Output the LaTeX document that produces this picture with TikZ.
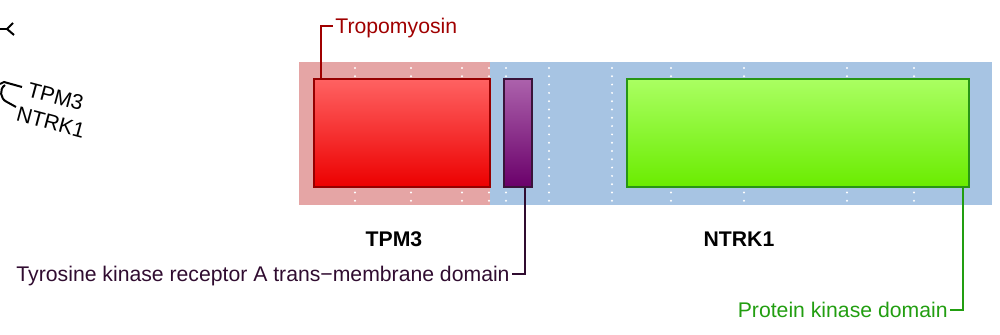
\documentclass[tikz,border=0pt]{standalone}
\usepackage{fontspec}
\setmainfont{Liberation Sans}

\definecolor{tpmBg}{RGB}{229,165,165}
\definecolor{ntrkBg}{RGB}{167,196,227}
\definecolor{redTop}{RGB}{255,98,98}
\definecolor{redBot}{RGB}{236,0,0}
\definecolor{redEdge}{RGB}{150,0,0}
\definecolor{tmTop}{RGB}{172,98,172}
\definecolor{tmBot}{RGB}{106,0,106}
\definecolor{tmEdge}{RGB}{58,20,58}
\definecolor{pkTop}{RGB}{170,255,98}
\definecolor{pkBot}{RGB}{106,236,0}
\definecolor{pkEdge}{RGB}{40,150,20}
\definecolor{tropoText}{RGB}{160,0,0}
\definecolor{tmText}{RGB}{48,12,48}
\definecolor{pkText}{RGB}{34,158,17}

\begin{document}
\begin{tikzpicture}[x=0.5pt,y=-0.5pt]
\tikzset{domainbox/.style = {draw,line width=0.9pt,inner sep=0,minimum height=54pt}}
\tikzset{callout/.style = {line width=1pt}}
\tikzset{note/.style = {font=\fontsize{10.6}{12}\selectfont,inner sep=1pt,text height=7.5pt,text depth=0pt}}
\tikzset{gene/.style = {font=\fontsize{10.6}{12}\selectfont\bfseries,inner sep=0}}
\useasboundingbox (0,0) rectangle (1000,335);
% partner backgrounds
\fill[tpmBg] (299,62) rectangle (490,205);
\fill[ntrkBg] (490,62) rectangle (992,205);
\foreach \x in {355,411,462,489,506,549,612,671,744,847,914}
  \foreach \k in {0,...,16}
    \fill[white] ({\x},{68+8.3*\k}) circle (0.55pt);
% domains
\node[domainbox,minimum width=88pt,draw=redEdge,top color=redTop,bottom color=redBot] (tropomyosin) at (402,133) {};
\node[domainbox,minimum width=14pt,draw=tmEdge,top color=tmTop,bottom color=tmBot] (transmem) at (518,133) {};
\node[domainbox,minimum width=171pt,draw=pkEdge,top color=pkTop,bottom color=pkBot] (kinase) at (798,133) {};
% domain names
\node[note,anchor=base west,text=tropoText] (tropoLabel) at (333,34) {Tropomyosin};
\node[note,anchor=base east,text=tmText] (tmLabel) at (512,282) {Tyrosine kinase receptor A trans\textminus membrane domain};
\node[note,anchor=base east,text=pkText] (pkLabel) at (950,318) {Protein kinase domain};
\draw[callout,tropoText] ([xshift=4pt]tropomyosin.north west) |- (tropoLabel.west);
\draw[callout,tmText] ([xshift=3.5pt]transmem.south) |- (tmLabel.east);
\draw[callout,pkText] ([xshift=-3.5pt]kinase.south east) |- (pkLabel.east);
% gene names
\node[gene,anchor=base] (tpm) at (394,247) {TPM3};
\node[gene,anchor=base] (ntrk) at (739,247) {NTRK1};
% cut legend
\node[font=\fontsize{10.6}{12}\selectfont,inner sep=0,rotate=-15,anchor=base west] (legTpm) at (26,96) {TPM3};
\node[font=\fontsize{10.6}{12}\selectfont,inner sep=0,rotate=-15,anchor=base west] (legNtrk) at (15,120) {NTRK1};
\draw[line width=1pt] (0,29) -- (8,29);
\draw[line width=1pt] (13,23) -- (7,29) -- (14,35);
\draw[line width=1pt] (0,84) -- (4,82) -- (22,87);
\draw[line width=1pt] (5,85) .. controls (-1,89) and (0,99) .. (7,102) -- (16,107);
\end{tikzpicture}
\end{document}
